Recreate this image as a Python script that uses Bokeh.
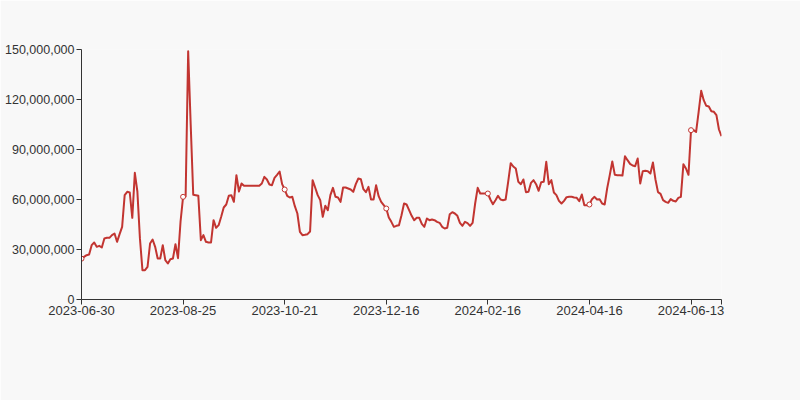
from bokeh.plotting import figure
from bokeh.models import ColumnDataSource, FixedTicker, NumeralTickFormatter, Range1d
from bokeh.embed import file_html
from bokeh.resources import INLINE

# ---- data (values in millions) ----
values_m = [
    24.5, 25.6, 26.6, 27.0, 32.6, 34.2, 31.6, 32.2, 31.2, 36.6,
    37.0, 37.0, 38.6, 39.6, 34.6, 39.2, 43.6, 62.6, 64.6, 64.2,
    49.0, 76.0, 64.8, 36.8, 17.6, 17.6, 19.6, 33.6, 36.0, 31.6,
    24.6, 24.6, 32.6, 23.6, 21.6, 24.2, 24.6, 33.2, 24.8, 46.8,
    61.6, 61.8, 149.0, 104.8, 62.8, 62.6, 62.2, 35.6, 38.6, 34.6,
    34.2, 34.2, 47.6, 43.0, 44.6, 49.6, 55.2, 57.0, 62.2, 62.6,
    58.6, 74.6, 64.8, 69.6, 68.2, 68.2, 68.2, 68.2, 68.2, 68.2,
    68.2, 69.6, 73.6, 72.0, 69.0, 68.6, 73.0, 74.8, 76.8, 69.2,
    66.0, 62.2, 61.2, 61.6, 56.0, 51.6, 40.6, 38.6, 38.8, 39.2,
    40.8, 71.6, 67.2, 62.6, 59.6, 49.6, 56.2, 53.6, 62.6, 67.0,
    61.6, 61.2, 58.6, 67.2, 67.2, 66.6, 66.0, 64.6, 69.2, 72.6,
    72.2, 66.2, 64.4, 67.6, 60.0, 60.0, 68.6, 62.0, 58.6, 56.6,
    54.6, 49.2, 46.6, 43.6, 44.2, 44.6, 50.6, 57.6, 57.0, 53.6,
    50.2, 47.6, 49.0, 49.0, 45.4, 43.6, 48.6, 47.6, 48.0, 47.6,
    46.6, 46.0, 43.6, 42.6, 43.0, 51.2, 52.4, 51.6, 50.2, 46.0,
    44.2, 46.6, 45.8, 44.2, 46.0, 57.6, 67.0, 63.6, 63.6, 63.6,
    63.6, 60.0, 57.2, 59.6, 62.2, 60.0, 59.6, 60.0, 70.6, 81.8,
    79.8, 78.6, 70.6, 69.2, 72.0, 64.4, 64.6, 70.0, 71.6, 69.2,
    65.2, 70.4, 70.6, 82.6, 69.2, 71.6, 64.2, 62.6, 59.2, 57.6,
    59.2, 61.4, 61.6, 61.6, 61.2, 61.0, 59.0, 63.0, 56.6, 56.6,
    57.0, 60.2, 61.6, 60.0, 60.2, 57.6, 57.0, 66.8, 74.6, 82.8,
    74.8, 74.6, 74.6, 74.4, 86.0, 83.6, 81.4, 80.4, 80.0, 84.6,
    69.6, 77.0, 77.2, 77.0, 75.6, 82.2, 72.0, 64.4, 63.4, 59.6,
    58.6, 58.0, 60.2, 59.2, 58.8, 61.0, 61.6, 81.2, 78.6, 74.8,
    101.6, 101.6, 100.6, 112.6, 125.2, 119.6, 116.2, 115.8, 113.0, 112.6,
    110.6, 102.0, 98.0,
]
tick_positions = [0, 40, 80, 120, 160, 200, 240]
tick_labels = ["2023-06-30", "2023-08-25", "2023-10-21", "2023-12-16",
               "2024-02-16", "2024-04-16", "2024-06-13"]
y_ticks = [0, 30000000, 60000000, 90000000, 120000000, 150000000]

values = [v * 1e6 for v in values_m]
xs = list(range(len(values)))
n_last = len(values) - 1

src = ColumnDataSource(dict(x=xs, y=values))
sym = ColumnDataSource(dict(x=tick_positions, y=[values[i] for i in tick_positions]))

BG = "#f8f8f8"
AX = "#333333"
FONT = "Liberation Sans"

p = figure(width=800, height=400, output_backend="svg", toolbar_location=None,
           x_range=Range1d(0, n_last), y_range=Range1d(0, 150000000),
           min_border_left=81, min_border_right=79, min_border_top=49, min_border_bottom=101,
           background_fill_color=BG, border_fill_color=BG, outline_line_color=None)

p.xgrid.visible = False
p.ygrid.visible = False

p.line("x", "y", source=src, line_color="#c23531", line_width=2, line_join="round")
p.scatter("x", "y", source=sym, size=5, marker="circle", fill_color="white",
          line_color="#c23531", line_width=1)

xa = p.xaxis[0]
xa.ticker = FixedTicker(ticks=tick_positions + [n_last])
overrides = {t: l for t, l in zip(tick_positions, tick_labels)}
overrides[n_last] = ""
xa.major_label_overrides = overrides
xa.minor_tick_line_color = None
xa.major_tick_in = 0
xa.major_tick_out = 5
xa.axis_line_color = AX
xa.major_tick_line_color = AX
xa.major_label_text_color = AX
xa.major_label_text_font = FONT
xa.major_label_text_font_size = "13px"
xa.major_label_standoff = 1

ya = p.yaxis[0]
ya.ticker = FixedTicker(ticks=y_ticks)
ya.formatter = NumeralTickFormatter(format="0,0")
ya.minor_tick_line_color = None
ya.major_tick_in = 0
ya.major_tick_out = 5
ya.axis_line_color = AX
ya.major_tick_line_color = AX
ya.major_label_text_color = AX
ya.major_label_text_font = FONT
ya.major_label_text_font_size = "12.5px"
ya.major_label_standoff = 2

html = file_html(p, INLINE)
open("out.html", "w").write(html)
